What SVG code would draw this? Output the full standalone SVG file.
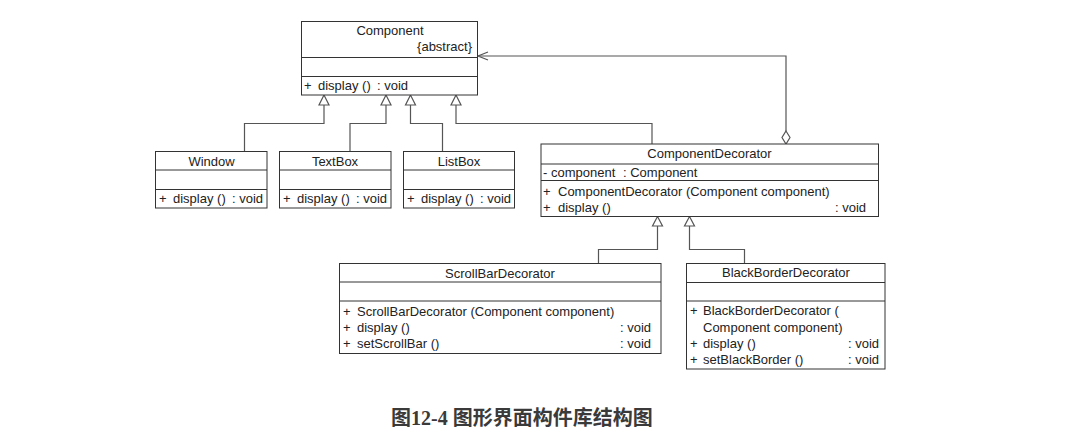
<svg xmlns="http://www.w3.org/2000/svg" width="1066" height="447" viewBox="0 0 1066 447">
<style>
.box{fill:#fff;stroke:#333;stroke-width:1}
.sep{stroke:#333;stroke-width:1}
.t{font-family:"Liberation Sans",Arial,sans-serif;font-size:13px;fill:#222}
.c{text-anchor:middle}
.e{text-anchor:end}
.ln{fill:none;stroke:#555;stroke-width:1.2}
.tri{fill:#fff;stroke:#555;stroke-width:1.2}
.cap{font-family:"Liberation Serif","Noto Sans CJK SC",serif;font-size:20px;font-weight:bold;fill:#3a3a3a}
</style>
<rect width="1066" height="447" fill="#fff"/>
<g id="connectors">
  <polyline class="ln" points="244.5,151.5 244.5,123.5 324,123.5 324,105"/>
  <polyline class="ln" points="350,151.5 350,123.5 386,123.5 386,105"/>
  <polyline class="ln" points="442.5,151.5 442.5,123.5 410.5,123.5 410.5,105"/>
  <polyline class="ln" points="652,144 652,123.5 456,123.5 456,105"/>
  <polygon class="tri" points="324,95 319,105 329,105"/>
  <polygon class="tri" points="386,95 381,105 391,105"/>
  <polygon class="tri" points="410.5,95 405.5,105 415.5,105"/>
  <polygon class="tri" points="456,95 451,105 461,105"/>
  <polyline class="ln" points="786,131 786,56 478,56"/>
  <polyline class="ln" points="488,52 478,56 488,60"/>
  <polygon class="tri" points="786,131 790,137.5 786,144 782,137.5"/>
  <polyline class="ln" points="598.5,263.5 598.5,249.5 657.5,249.5 657.5,226"/>
  <polyline class="ln" points="744.5,263.5 744.5,249.5 689.5,249.5 689.5,226"/>
  <polygon class="tri" points="657.5,216.5 652.5,226 662.5,226"/>
  <polygon class="tri" points="689.5,216.5 684.5,226 694.5,226"/>
</g>
<g id="Component">
  <rect class="box" x="301.5" y="21.5" width="176" height="73.5"/>
  <line class="sep" x1="301.5" y1="57.5" x2="477.5" y2="57.5"/>
  <line class="sep" x1="301.5" y1="76.5" x2="477.5" y2="76.5"/>
  <text class="t c" x="390" y="35">Component</text>
  <text class="t e" x="472" y="51">{abstract}</text>
  <text class="t" x="304" y="90">+</text>
  <text class="t" x="318" y="90">display ()</text>
  <text class="t" x="377" y="90">: void</text>
</g>
<g id="Window">
  <rect class="box" x="155.5" y="151.5" width="111.5" height="56.5"/>
  <line class="sep" x1="155.5" y1="170" x2="267" y2="170"/>
  <line class="sep" x1="155.5" y1="189.5" x2="267" y2="189.5"/>
  <text class="t c" x="211.5" y="165.5">Window</text>
  <text class="t" x="159" y="203">+</text>
  <text class="t" x="173" y="203">display ()</text>
  <text class="t" x="232" y="203">: void</text>
</g>
<g id="TextBox">
  <rect class="box" x="279.5" y="151.5" width="111.5" height="56.5"/>
  <line class="sep" x1="279.5" y1="170" x2="391" y2="170"/>
  <line class="sep" x1="279.5" y1="189.5" x2="391" y2="189.5"/>
  <text class="t c" x="335" y="165.5">TextBox</text>
  <text class="t" x="283" y="203">+</text>
  <text class="t" x="297" y="203">display ()</text>
  <text class="t" x="356" y="203">: void</text>
</g>
<g id="ListBox">
  <rect class="box" x="403.5" y="151.5" width="111" height="56.5"/>
  <line class="sep" x1="403.5" y1="170" x2="514.5" y2="170"/>
  <line class="sep" x1="403.5" y1="189.5" x2="514.5" y2="189.5"/>
  <text class="t c" x="459" y="165.5">ListBox</text>
  <text class="t" x="407" y="203">+</text>
  <text class="t" x="421" y="203">display ()</text>
  <text class="t" x="480" y="203">: void</text>
</g>
<g id="ComponentDecorator">
  <rect class="box" x="541" y="144" width="337.5" height="72.5"/>
  <line class="sep" x1="541" y1="164" x2="878.5" y2="164"/>
  <line class="sep" x1="541" y1="180.5" x2="878.5" y2="180.5"/>
  <text class="t c" x="709.5" y="158">ComponentDecorator</text>
  <text class="t" x="543" y="177">-</text>
  <text class="t" x="551" y="177">component</text>
  <text class="t" x="623" y="177">: Component</text>
  <text class="t" x="543" y="195.5">+</text>
  <text class="t" x="558" y="195.5">ComponentDecorator (Component component)</text>
  <text class="t" x="543" y="212">+</text>
  <text class="t" x="558" y="212">display ()</text>
  <text class="t" x="835" y="212">: void</text>
</g>
<g id="ScrollBarDecorator">
  <rect class="box" x="339.5" y="263.5" width="321.5" height="90"/>
  <line class="sep" x1="339.5" y1="282" x2="661" y2="282"/>
  <line class="sep" x1="339.5" y1="301" x2="661" y2="301"/>
  <text class="t c" x="500" y="278">ScrollBarDecorator</text>
  <text class="t" x="343" y="316">+</text>
  <text class="t" x="357" y="316">ScrollBarDecorator (Component component)</text>
  <text class="t" x="343" y="332">+</text>
  <text class="t" x="357" y="332">display ()</text>
  <text class="t" x="620" y="332">: void</text>
  <text class="t" x="343" y="348">+</text>
  <text class="t" x="357" y="348">setScrollBar ()</text>
  <text class="t" x="620" y="348">: void</text>
</g>
<g id="BlackBorderDecorator">
  <rect class="box" x="686.5" y="263.5" width="198.5" height="105.5"/>
  <line class="sep" x1="686.5" y1="282.5" x2="885" y2="282.5"/>
  <line class="sep" x1="686.5" y1="301" x2="885" y2="301"/>
  <text class="t c" x="786" y="277">BlackBorderDecorator</text>
  <text class="t" x="690" y="315">+</text>
  <text class="t" x="703" y="315">BlackBorderDecorator (</text>
  <text class="t" x="703" y="331.5">Component component)</text>
  <text class="t" x="690" y="348">+</text>
  <text class="t" x="703" y="348">display ()</text>
  <text class="t" x="848" y="348">: void</text>
  <text class="t" x="690" y="363.5">+</text>
  <text class="t" x="703" y="363.5">setBlackBorder ()</text>
  <text class="t" x="848" y="363.5">: void</text>
</g>
<text class="cap" x="391" y="425">图12-4 图形界面构件库结构图</text>
</svg>
